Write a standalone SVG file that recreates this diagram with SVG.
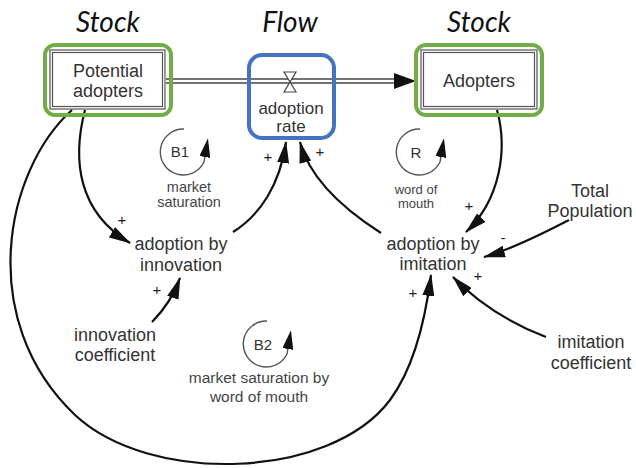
<svg xmlns="http://www.w3.org/2000/svg" width="636" height="468" viewBox="0 0 636 468">
<defs>
<marker id="arr" markerUnits="userSpaceOnUse" viewBox="0 0 22 12" markerWidth="22" markerHeight="12" refX="21" refY="6" orient="auto">
<path d="M0,0 L22,6 L0,12 Z" fill="#111"/>
</marker>
<marker id="loopArr" markerUnits="userSpaceOnUse" viewBox="0 0 19 11" markerWidth="19" markerHeight="11" refX="1" refY="5.5" orient="auto">
<path d="M0,0 L19,5.5 L0,11 Z" fill="#111"/>
</marker>
<marker id="flowArr" markerUnits="userSpaceOnUse" viewBox="0 0 22 16" markerWidth="22" markerHeight="16" refX="20" refY="8" orient="auto">
<path d="M0,0 L22,8 L0,16 Z" fill="#111"/>
</marker>
</defs>
<style>
.title{font-family:Lato,"Open Sans",sans-serif;font-style:italic;font-size:28px;fill:#111;text-anchor:middle}
.lbl{font-family:"Liberation Sans",Arial,sans-serif;font-size:18px;fill:#333;text-anchor:middle}
.small{font-family:"Liberation Sans",Arial,sans-serif;font-size:14.5px;fill:#444;text-anchor:middle}
.sign{font-family:"Liberation Sans",Arial,sans-serif;font-size:15px;fill:#222;text-anchor:middle}
.green{fill:none;stroke:#70AD47;stroke-width:4}
.blue{fill:none;stroke:#4472C4;stroke-width:4}
.stock{fill:#fff;stroke:#555;stroke-width:1.2}
.link{fill:none;stroke:#111;stroke-width:2.2;marker-end:url(#arr)}
.loop{fill:none;stroke:#555;stroke-width:1.4;marker-end:url(#loopArr)}
</style>
<rect width="636" height="468" fill="#fff"/>

<g id="titles">
<text class="title" x="108" y="32">Stock</text>
<text class="title" x="290" y="32">Flow</text>
<text class="title" x="479" y="32">Stock</text>
</g>

<g id="connectors">
<line x1="166" y1="81" x2="400" y2="81" stroke="#444" stroke-width="5.5"/>
<line x1="166" y1="81" x2="398" y2="81" stroke="#fff" stroke-width="2.5"/>
<path d="M396,81 L414,81" stroke="#111" stroke-width="1" marker-end="url(#flowArr)"/>
<path class="link" d="M85,110 C72,160 78,212 130,243"/>
<path class="link" d="M233,232 C260,215 280,185 286,142"/>
<path class="link" d="M381,233 C345,210 310,180 300,142"/>
<path class="link" d="M497,110 C508,150 500,200 466,232"/>
<path class="link" d="M569,220 C540,235 510,250 484,257"/>
<path class="link" d="M546,337 C515,325 480,305 453,277"/>
<path class="link" d="M152,322 C162,312 172,300 180,278"/>
<path class="link" d="M72,110 C5,170 -25,320 75,415 C150,485 330,480 390,400 C410,373 424,330 431,275"/>
</g>

<g id="potential-adopters">
<rect class="stock" x="50" y="50" width="115" height="59"/>
<rect class="stock" x="52.5" y="52.5" width="110" height="54"/>
<rect class="green" x="45" y="45" width="126" height="70" rx="10"/>
<text class="lbl" x="108" y="77">Potential</text>
<text class="lbl" x="108" y="97">adopters</text>
</g>

<g id="adopters">
<rect class="stock" x="421" y="50" width="116" height="59"/>
<rect class="stock" x="423.5" y="52.5" width="111" height="54"/>
<rect class="green" x="416" y="45" width="126" height="70" rx="10"/>
<text class="lbl" x="479" y="87">Adopters</text>
</g>

<g id="adoption-rate">
<rect class="blue" x="249" y="55" width="85" height="83" rx="13"/>
<path d="M284,72 L296,72 L290,82 Z M290,82 L296,92 L284,92 Z" fill="#fff" stroke="#444" stroke-width="1.2"/>
<text class="lbl" x="291" y="114" style="font-size:17px">adoption</text>
<text class="lbl" x="291" y="132" style="font-size:17px">rate</text>
</g>

<g id="adoption-by-innovation">
<text class="lbl" x="181" y="250">adoption by</text>
<text class="lbl" x="181" y="271">innovation</text>
</g>

<g id="adoption-by-imitation">
<text class="lbl" x="433" y="250">adoption by</text>
<text class="lbl" x="433" y="270">imitation</text>
</g>

<g id="total-population">
<text class="lbl" x="590" y="197">Total</text>
<text class="lbl" x="590" y="217">Population</text>
</g>

<g id="innovation-coefficient">
<text class="lbl" x="115" y="341">innovation</text>
<text class="lbl" x="115" y="361">coefficient</text>
</g>

<g id="imitation-coefficient">
<text class="lbl" x="591" y="348">imitation</text>
<text class="lbl" x="591" y="369">coefficient</text>
</g>

<g id="loop-B1">
<path class="loop" d="M184,129 A23,23 0 1 0 204,162 L205,156"/>
<text class="small" x="180" y="157" style="font-size:15px;fill:#333">B1</text>
<text class="small" x="189" y="192">market</text>
<text class="small" x="189" y="207">saturation</text>
</g>

<g id="loop-R">
<path class="loop" d="M420,129 A23,23 0 1 0 440,162 L441,156"/>
<text class="small" x="416" y="158" style="font-size:15px;fill:#333">R</text>
<text class="small" x="416" y="194" style="font-size:13px">word of</text>
<text class="small" x="416" y="208" style="font-size:13px">mouth</text>
</g>

<g id="loop-B2">
<path class="loop" d="M267,321 A23,23 0 1 0 287,354 L288,348"/>
<text class="small" x="263" y="350" style="font-size:15px;fill:#333">B2</text>
<text class="small" x="259" y="383" style="font-size:15.5px">market saturation by</text>
<text class="small" x="259" y="402" style="font-size:15.5px">word of mouth</text>
</g>

<g id="polarities">
<text class="sign" x="122" y="225">+</text>
<text class="sign" x="268" y="162">+</text>
<text class="sign" x="320" y="157">+</text>
<text class="sign" x="469" y="211">+</text>
<text class="sign" x="503" y="243">-</text>
<text class="sign" x="478" y="281">+</text>
<text class="sign" x="413" y="298">+</text>
<text class="sign" x="157" y="295">+</text>
</g>
</svg>
